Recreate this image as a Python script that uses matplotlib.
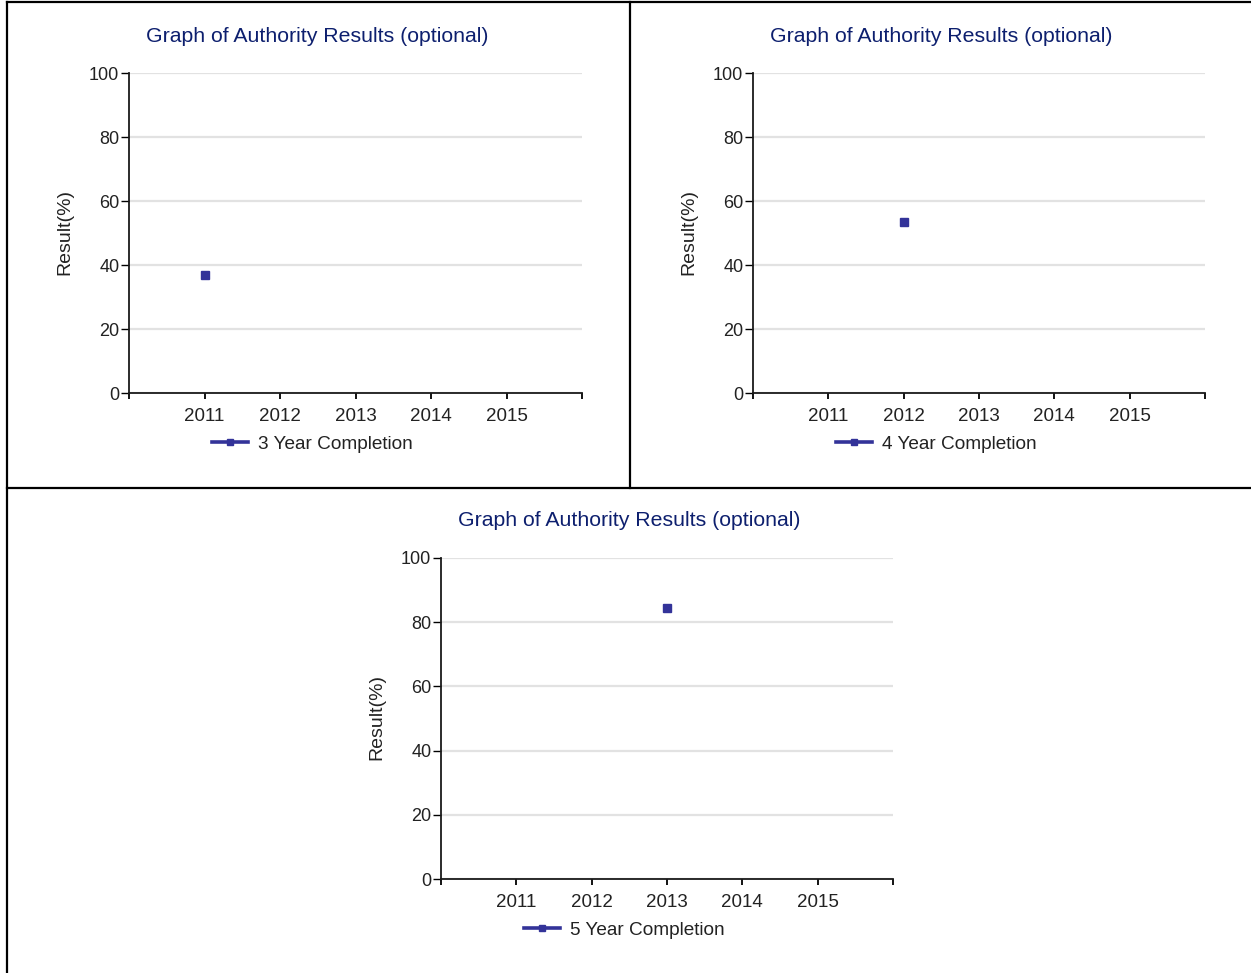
import matplotlib
matplotlib.use("Agg")
import matplotlib.pyplot as plt
from matplotlib.lines import Line2D

plt.rcParams['font.family'] = ['Liberation Sans', 'DejaVu Sans']

# data
years = [2011, 2012, 2013, 2014, 2015]
series_names = ["3 Year Completion", "4 Year Completion", "5 Year Completion"]
point_years = [2011, 2012, 2013]
point_values = [37.0, 53.5, 84.5]
title = "Graph of Authority Results (optional)"
ylabel = "Result(%)"

W, H = 1251, 973
TITLE_COL = "#0d1f6e"
MARK_COL = "#333399"
TEXT_COL = "#222222"

# panel boxes in pixels: x0, x1, y_top, y_bottom
panels = [(129, 582, 73, 393), (753, 1205, 73, 393), (441, 893, 558, 879)]

fig = plt.figure(figsize=(W / 100, H / 100), dpi=100)


def fx(x):
    return x / W


def fy(y):
    return 1 - y / H


def draw_panel(box, name, yr, val):
    x0, x1, yt, yb = box
    ax = fig.add_axes([fx(x0), fy(yb), (x1 - x0) / W, (yb - yt) / H])
    ax.plot([yr], [val], '-s', color=MARK_COL, lw=2.6, ms=6, label=name)
    ax.set_xlim(2010, 2016)
    ax.set_ylim(0, 100)
    ax.set_xticks([2010] + years + [2016])
    ax.set_xticklabels([''] + [str(y) for y in years] + [''])
    ax.set_yticks(range(0, 101, 20))
    ax.yaxis.grid(True, color='#e2e2e2', lw=1.6)
    ax.set_axisbelow(True)
    for s in ['top', 'right']:
        ax.spines[s].set_visible(False)
    for s in ['left', 'bottom']:
        ax.spines[s].set_linewidth(1.3)
        ax.spines[s].set_color('#1a1a1a')
    ax.tick_params(axis='y', length=6, width=1, pad=1, labelsize=13, labelcolor=TEXT_COL)
    ax.tick_params(axis='x', length=4, width=1.3, pad=6.5, labelsize=13.5, labelcolor=TEXT_COL)

    cx = (x0 + x1) / 2 - 38
    fig.text(fx(cx), fy(yt - 37), title, color=TITLE_COL, fontsize=15.3,
             ha='center', va='center')
    fig.text(fx(x0 - 64), fy((yt + yb) / 2 - 1), ylabel, color=TEXT_COL,
             fontsize=14, rotation=90, ha='center', va='center')

    leg = ax.legend(loc='center', bbox_to_anchor=(fx(cx - 5), fy(yb + 51)),
                    bbox_transform=fig.transFigure, frameon=False, fontsize=13.7,
                    handlelength=1.9, handletextpad=0.5, labelcolor=TEXT_COL)
    leg.legend_handles[0].set_markersize(4)


for box, name, yr, val in zip(panels, series_names, point_years, point_values):
    draw_panel(box, name, yr, val)

# cell borders
border = dict(color='black', lw=1.6, transform=fig.transFigure)
fig.add_artist(Line2D([fx(6.5), fx(1251)], [fy(2), fy(2)], **border))
fig.add_artist(Line2D([fx(6.5), fx(6.5)], [fy(2), fy(973)], **border))
fig.add_artist(Line2D([fx(6.5), fx(1251)], [fy(488), fy(488)], **border))
fig.add_artist(Line2D([fx(630), fx(630)], [fy(2), fy(488)], **border))

fig.savefig("out.png", dpi=100)
